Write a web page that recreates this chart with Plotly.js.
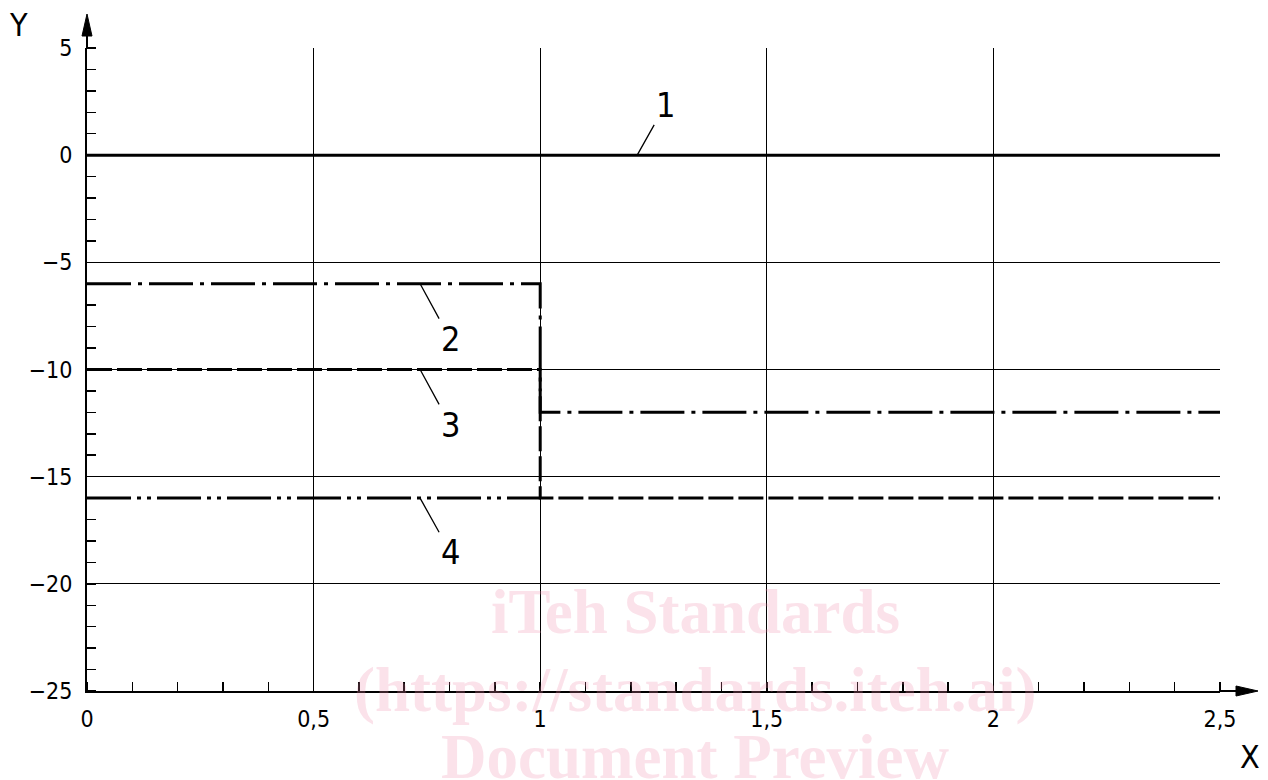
<!DOCTYPE html>
<html>
<head>
<meta charset="utf-8">
<script src="https://cdn.plot.ly/plotly-3.0.1.min.js"></script>
<style>html,body{margin:0;padding:0;background:#fff;}#chart{width:1268px;height:780px;}</style>
</head>
<body>
<div id="chart"></div>
<script>
// ---- data ----
const line1X = [0, 2.5];
const line1Y = [0, 0];
const line2X = [0, 1, 1, 2.5];
const line2Y = [-6, -6, -12, -12];
const line3X = [0, 1, 1, 2.5];
const line3Y = [-10, -10, -16, -16];
const line4X = [0, 1];
const line4Y = [-16, -16];

const labelNames = ['1', '2', '3', '4'];
const labelAnchorX = [1.214, 0.735, 0.735, 0.735];
const labelAnchorY = [0, -6, -10, -16];

const xTickVals = [0, 0.5, 1, 1.5, 2, 2.5];
const xTickText = ['0', '0,5', '1', '1,5', '2', '2,5'];
const yTickVals = [5, 0, -5, -10, -15, -20, -25];
const yTickText = ['5', '0', '\u22125', '\u221210', '\u221215', '\u221220', '\u221225'];

const watermarkLines = ['iTeh Standards', '(https://standards.iteh.ai)', 'Document Preview'];

// ---- chart ----
const FONT = '"DejaVu Sans Condensed", "DejaVu Sans", sans-serif';
const mk = (x, y, dash) => ({x: x, y: y, mode: 'lines', type: 'scatter', hoverinfo: 'skip',
  line: {color: '#000', width: 3, dash: dash}, showlegend: false});

const traces = [
  mk(line1X, line1Y, 'solid'),
  mk(line2X, line2Y, '44px,7px,4px,7px'),
  mk(line3X, line3Y, '25px,5px'),
  mk(line4X, line4Y, '44px,6px,4px,6px,4px,6px')
];

const annotations = [];
const wmPix = [612, 690, 757];
watermarkLines.forEach((t, i) => {
  annotations.push({xref: 'paper', yref: 'paper', x: (695 - 87) / 1133, y: (691 - wmPix[i]) / 643,
    xanchor: 'center', yanchor: 'middle',
    text: '<b>' + t + '</b>', showarrow: false,
    font: {family: '"Liberation Serif", serif', size: 63, color: 'rgba(240,140,170,0.25)'}});
});

const labelOffsets = [[28, -50], [30, 55], [30, 55], [30, 54]];
labelNames.forEach((t, i) => annotations.push({
  x: labelAnchorX[i], y: labelAnchorY[i], xref: 'x', yref: 'y', text: t,
  showarrow: true, arrowhead: 0, arrowwidth: 1.3, arrowcolor: '#000',
  ax: labelOffsets[i][0], ay: labelOffsets[i][1], standoff: 0,
  font: {family: FONT, size: 34, color: '#000'}
}));

annotations.push({xref: 'paper', yref: 'paper', x: (18 - 87) / 1133, y: (691 - 25) / 643, text: 'Y',
  xanchor: 'center', yanchor: 'middle', showarrow: false,
  font: {family: FONT, size: 32, color: '#000'}});
annotations.push({xref: 'paper', yref: 'paper', x: (1250 - 87) / 1133, y: (691 - 757) / 643, text: 'X',
  xanchor: 'center', yanchor: 'middle', showarrow: false,
  font: {family: FONT, size: 32, color: '#000'}});

// arrowheads as paper-coordinate paths
const pw = 1133, ph = 643;
const px = v => v / pw, py = v => v / ph;
const shapes = [
  {type: 'line', xref: 'paper', yref: 'paper', x0: 0, x1: 0, y0: 1, y1: 1 + py(20), line: {color: '#000', width: 2}},
  {type: 'path', xref: 'paper', yref: 'paper',
    path: `M ${-px(5)} ${1 + py(12)} L ${px(5)} ${1 + py(12)} L 0 ${1 + py(34)} Z`,
    fillcolor: '#000', line: {color: '#000', width: 1}},
  {type: 'line', xref: 'paper', yref: 'paper', x0: 1, x1: 1 + px(20), y0: 0, y1: 0, line: {color: '#000', width: 2}},
  {type: 'path', xref: 'paper', yref: 'paper',
    path: `M ${1 + px(16)} ${-py(5)} L ${1 + px(16)} ${py(5)} L ${1 + px(38)} 0 Z`,
    fillcolor: '#000', line: {color: '#000', width: 1}}
];

const layout = {
  width: 1268, height: 780,
  margin: {l: 87, r: 48, t: 48, b: 89},
  paper_bgcolor: '#fff', plot_bgcolor: '#fff',
  font: {family: FONT, size: 23, color: '#000'},
  showlegend: false,
  xaxis: {range: [0, 2.5], tickvals: xTickVals, ticktext: xTickText, ticks: '',
    showgrid: true, gridcolor: '#000', gridwidth: 1.2, zeroline: false,
    showline: true, linecolor: '#000', linewidth: 2, ticklabelstandoff: 6,
    minor: {dtick: 0.1, ticks: 'inside', ticklen: 9, tickcolor: '#000', tickwidth: 1.5, showgrid: false},
    tickfont: {family: FONT, size: 23, color: '#000'}},
  yaxis: {range: [-25, 5], tickvals: yTickVals, ticktext: yTickText, ticks: '',
    showgrid: true, gridcolor: '#000', gridwidth: 1.2, zeroline: false,
    showline: true, linecolor: '#000', linewidth: 2, ticklabelstandoff: 8,
    minor: {dtick: 1, ticks: 'inside', ticklen: 9, tickcolor: '#000', tickwidth: 1.5, showgrid: false},
    tickfont: {family: FONT, size: 23, color: '#000'}},
  annotations: annotations,
  shapes: shapes
};

Plotly.newPlot('chart', traces, layout, {staticPlot: true, displayModeBar: false});
</script>
</body>
</html>
